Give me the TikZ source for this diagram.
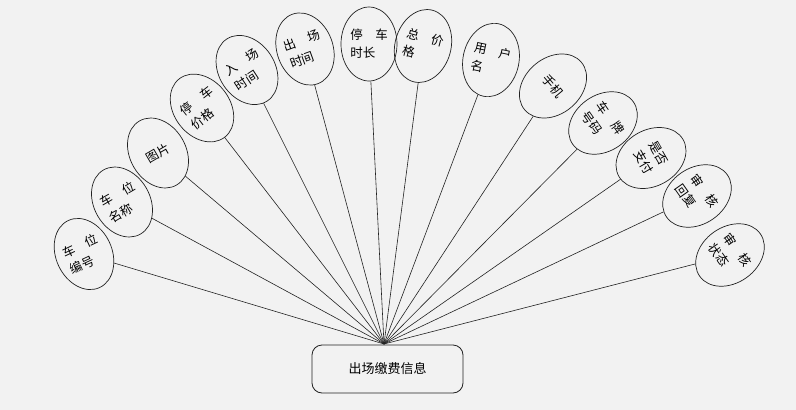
\documentclass[tikz,border=0pt]{standalone}
\usepackage{fontspec}
\newfontfamily\cjk{Noto Sans CJK SC}
\usetikzlibrary{shapes.geometric}
\definecolor{bg}{HTML}{F2F2F2}
\definecolor{ln}{HTML}{222222}
\begin{document}
\begin{tikzpicture}[x=1pt,y=-1pt,
  attr/.style={draw=ln, line width=0.7pt, ellipse, minimum width=56pt, minimum height=74pt,
    inner sep=0pt, font=\cjk\fontsize{12.5}{18}\selectfont, align=left},
  link/.style={draw=ln, line width=0.6pt},
  entity/.style={draw=ln, line width=0.8pt, rounded corners=10pt, minimum width=151pt,
    minimum height=48pt, inner sep=0pt, font=\cjk\fontsize{13}{15}\selectfont}]
\fill[bg] (0,0) rectangle (796,410);
\useasboundingbox (0,0) rectangle (796,410);
\node[entity] (e) at (387.5,369) {出场缴费信息};
\coordinate (hub) at (384,344);
\node[attr, rotate=25]  (n1)  at (84,254)  {车\quad 位\\编号};
\node[attr, rotate=30]  (n2)  at (122,202) {车\quad 位\\名称};
\node[attr, rotate=30]  (n3)  at (158,153) {图片};
\node[attr, rotate=38]  (n4)  at (202,108) {停\quad 车\\价格};
\node[attr, rotate=33]  (n5)  at (247,70)  {入\quad 场\\时间};
\node[attr, rotate=20]  (n6)  at (305,49)  {出\quad 场\\时间};
\node[attr]             (n7)  at (369,44)  {停\quad 车\\时长};
\node[attr, rotate=-15] (n8)  at (423,46)  {总\quad 价\\格};
\node[attr, rotate=-12] (n9)  at (491,60)  {用\quad 户\\名};
\node[attr, rotate=-50] (n10) at (553,86)  {手机};
\node[attr, rotate=-55] (n11) at (603,123) {车\quad 牌\\号码};
\node[attr, rotate=-60] (n12) at (651,158) {是否\\支付};
\node[attr, rotate=-55] (n13) at (697,196) {审\quad 核\\回复};
\node[attr, rotate=-55] (n14) at (730,255) {审\quad 核\\状态};
\foreach \n in {n1,n2,n3,n4,n5,n6,n7,n8,n9,n10,n11,n12,n13,n14}
  \draw[link] (hub) -- (\n);
\end{tikzpicture}
\end{document}
